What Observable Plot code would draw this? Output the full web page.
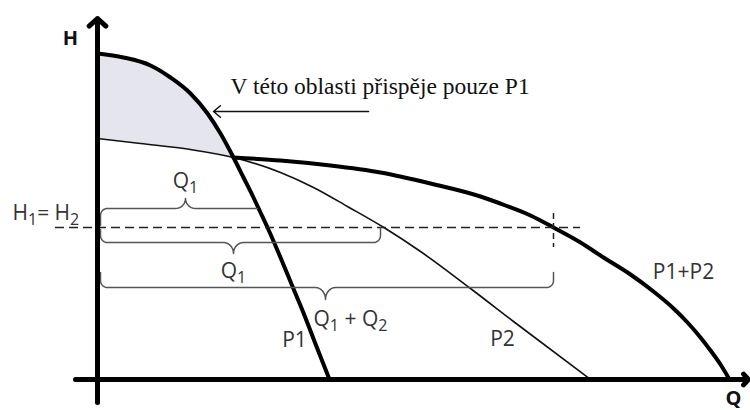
<!DOCTYPE html>
<html><head><meta charset="utf-8">
<script src="https://cdn.jsdelivr.net/npm/d3@7"></script>
<script src="https://cdn.jsdelivr.net/npm/@observablehq/plot@0.6"></script>
<style>body{margin:0;background:#fff;} svg{display:block}</style>
</head><body><div id="chart"></div>
<script>
// Pump curves (Q = flow, H = head), arbitrary units
const p1Q = [0, 2.6, 5.3, 7.3, 9.3, 11.0, 12.3, 13.6, 14.6, 15.5, 16.3, 17.0, 18.3, 19.5, 20.7, 21.9, 23.2];
const p1H = [32.6, 32.2, 31.4, 30.2, 28.6, 26.6, 24.6, 22.2, 20.2, 18.4, 16.7, 15.2, 12.2, 9.3, 6.4, 3.3, 0];
const p2Q = [0, 4.3, 9.3, 13.6, 18.3, 21.6, 25.0, 28.8, 32.3, 37.3, 41.6, 49.3];
const p2H = [24.1, 23.6, 23.0, 22.2, 20.7, 19.2, 17.3, 15.1, 12.8, 9.1, 5.8, 0];
const p12Q = [13.6, 18.3, 23.3, 28.3, 33.3, 38.3, 40.8, 43.3, 45.6, 48.3, 50.6, 53.3, 55.6, 57.5, 59.0, 60.3, 61.3, 62.3, 63.2];
const p12H = [22.2, 21.9, 21.4, 20.7, 19.6, 18.3, 17.4, 16.4, 15.2, 13.7, 12.2, 10.5, 8.8, 7.2, 5.7, 4.2, 2.9, 1.5, 0];

// Operating head H1 = H2 and the combined operating point
const opH = 15.2;
const opQ = 45.6;
const dashQ = [-4.2, 48.3];
const tickH = [16.6, 13.2];

// Braces
const braceX0 = [0.3, 0.3, 0.3];
const braceX1 = [16.0, 28.3, 45.6];
const braceLevel = [17.1, 13.7, 9.2];
const braceTip = [8.8, 13.6, 22.8];
const braceDir = [1, -1, -1];
const braceTipH = [1.0, 1.1, 1.2];
const braceLeftEnd = [15.4, 15.0, 10.7];
const braceRightEnd = [null, 15.2, 10.7];

// Axes extents
const axisQ = [-2.2, 65.1];
const axisH = [-2.3, 36.1];

// Annotation arrow
const noteArrowQ = [27.1, 11.6];
const noteArrowH = 26.8;

// Labels
const curveLabels = ["P1", "P2", "P1+P2"];
const curveLabelQ = [19.7, 40.5, 58.6];
const curveLabelH = [3.9, 4.0, 10.7];
const braceLabels = ["Q_1", "Q_1"];
const braceLabelQ = [8.8, 13.6];
const braceLabelH = [19.8, 10.8];
const sumLabel = "Q_1 + Q_2";
const sumLabelQ = 21.6, sumLabelH = 6.0;
const headLabel = "H_1= H_2";
const headLabelQ = -8.5, headLabelH = 16.65;
const axisLabels = ["H", "Q"];
const axisLabelQ = [-2.7, 63.6];
const axisLabelH = [34.1, -1.9];
const noteText = "V této oblasti přispěje pouze P1";
const noteQ = 13.3, noteH = 29.35;

// ---- build tables
const zip = (qs, hs, s) => qs.map((q, i) => ({q, h: hs[i], s}));
const p1 = zip(p1Q, p1H, "P1");
const p2 = zip(p2Q, p2H, "P2");
const p12 = zip(p12Q, p12H, "P1+P2");
const cross = {q: p12Q[0], h: p12H[0]};
const shade = [
  ...p1.filter(d => d.q < cross.q),
  cross,
  ...p2.filter(d => d.q < cross.q).reverse()
];

function bracePoints(i) {
  const x0 = braceX0[i], x1 = braceX1[i], y = braceLevel[i], tip = braceTip[i];
  const d = braceDir[i], h = braceTipH[i], le = braceLeftEnd[i], re = braceRightEnd[i];
  const r = 0.7, w = 1.0, n = 10, pts = [];
  if (le != null) {
    pts.push([x0, le]);
    for (let k = 0; k <= n; k++) { const a = k / n * Math.PI / 2; pts.push([x0 + r - r * Math.cos(a), y - d * r + d * r * Math.sin(a)]); }
  } else pts.push([x0, y]);
  for (let k = 0; k <= n; k++) { const a = k / n * Math.PI / 2; pts.push([tip - w + w * Math.sin(a), y + d * h - d * h * Math.cos(a)]); }
  for (let k = n; k >= 0; k--) { const a = k / n * Math.PI / 2; pts.push([tip + w - w * Math.sin(a), y + d * h - d * h * Math.cos(a)]); }
  if (re != null) {
    for (let k = 0; k <= n; k++) { const a = k / n * Math.PI / 2; pts.push([x1 - r + r * Math.sin(a), y - d * r + d * r * Math.cos(a)]); }
    pts.push([x1, re]);
  } else pts.push([x1, y]);
  return pts.map(([q, hh]) => ({q, h: hh, b: i}));
}
const braces = braceX0.flatMap((_, i) => bracePoints(i));

const labelFont = {fontFamily: "Open Sans", fontSize: 21, fill: "#333"};

const chart = Plot.plot({
  width: 750, height: 410,
  margin: 0,
  x: {domain: [-9.7, 65.3], range: [0, 750], axis: null},
  y: {domain: [-3.1, 37.9], range: [410, 0], axis: null},
  style: {background: "#fff", fontFamily: "Open Sans"},
  marks: [
    Plot.line(shade, {x: "q", y: "h", fill: "#e5e6ed", stroke: "none"}),
    Plot.line(p2, {x: "q", y: "h", stroke: "#111", strokeWidth: 1.6, curve: "monotone-x"}),
    Plot.line(p1, {x: "q", y: "h", stroke: "#000", strokeWidth: 4, curve: "monotone-x"}),
    Plot.line(p12, {x: "q", y: "h", stroke: "#000", strokeWidth: 4, curve: "monotone-x"}),
    Plot.ruleY([opH], {x1: dashQ[0], x2: dashQ[1], stroke: "#222", strokeWidth: 1.5, strokeDasharray: "9,5"}),
    Plot.ruleX([opQ], {y1: tickH[0], y2: tickH[1], stroke: "#222", strokeWidth: 1.5, strokeDasharray: "6,4"}),
    Plot.line(braces, {x: "q", y: "h", z: "b", stroke: "#555", strokeWidth: 1.5}),
    Plot.arrow([0], {x1: 0, y1: axisH[0], x2: 0, y2: axisH[1], stroke: "#000", strokeWidth: 5, headLength: 3.4, headAngle: 95}),
    Plot.arrow([0], {x1: axisQ[0], y1: 0, x2: axisQ[1], y2: 0, stroke: "#000", strokeWidth: 5, headLength: 2.2, headAngle: 95}),
    Plot.arrow([0], {x1: noteArrowQ[0], y1: noteArrowH, x2: noteArrowQ[1], y2: noteArrowH, stroke: "#111", strokeWidth: 1.5, headLength: 9, headAngle: 80}),
    Plot.text(curveLabels, {x: (d, i) => curveLabelQ[i], y: (d, i) => curveLabelH[i], text: d => d, ...labelFont}),
    Plot.text(braceLabels, {x: (d, i) => braceLabelQ[i], y: (d, i) => braceLabelH[i], text: d => d, ...labelFont}),
    Plot.text([sumLabel], {x: sumLabelQ, y: sumLabelH, text: d => d, textAnchor: "start", ...labelFont}),
    Plot.text([headLabel], {x: headLabelQ, y: headLabelH, text: d => d, textAnchor: "start", ...labelFont}),
    Plot.text(axisLabels, {x: (d, i) => axisLabelQ[i], y: (d, i) => axisLabelH[i], text: d => d, fontFamily: "Open Sans", fontSize: 20, fontWeight: "bold", fill: "#111"}),
    Plot.text([noteText], {x: noteQ, y: noteH, text: d => d, textAnchor: "start", fontFamily: "Liberation Serif", fontSize: 23.5, fill: "#111"})
  ]
});

// subscripts: "X_1" -> X with subscript 1
const ns = "http://www.w3.org/2000/svg";
chart.querySelectorAll("text").forEach(t => {
  const s = t.textContent;
  if (!s.includes("_")) return;
  t.textContent = "";
  s.split(/_(\d)/).forEach((p, i) => {
    if (!p) return;
    const ts = document.createElementNS(ns, "tspan");
    ts.textContent = p;
    if (i % 2 === 1) { ts.setAttribute("font-size", "16"); ts.setAttribute("dy", "5"); }
    else if (i > 0) ts.setAttribute("dy", "-5");
    t.appendChild(ts);
  });
});

document.getElementById("chart").appendChild(chart);
</script>
</body></html>
